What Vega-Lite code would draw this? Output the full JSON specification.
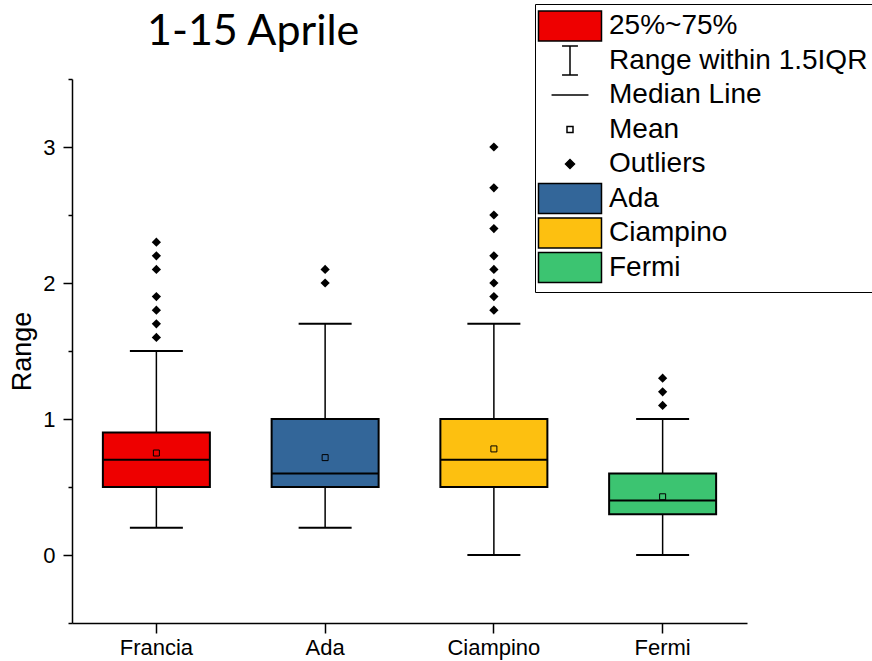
{
  "$schema": "https://vega.github.io/schema/vega-lite/v6.json",
  "autosize": {"type": "fit", "contains": "padding"},
  "width": 872,
  "height": 661,
  "padding": {"left": 8, "top": 11, "right": 125, "bottom": 3},
  "background": "white",
  "title": {"text": "1-15 Aprile", "frame": "group", "anchor": "start", "dx": 75, "offset": 14, "font": "Lato", "fontSize": 43, "fontWeight": "normal", "color": "black"},
  "config": {
    "view": {"stroke": null},
    "axis": {"domainColor": "black", "domainWidth": 1.5, "tickColor": "black", "tickWidth": 1.5, "labelColor": "black", "labelFont": "Liberation Sans", "titleFont": "Liberation Sans", "titleColor": "black", "grid": false}
  },
  "datasets": {
    "stats": [
      {"site": "Francia", "min": 0.2, "q1": 0.5, "median": 0.7, "q3": 0.9, "max": 1.5, "mean": 0.75},
      {"site": "Ada", "min": 0.2, "q1": 0.5, "median": 0.6, "q3": 1.0, "max": 1.7, "mean": 0.716},
      {"site": "Ciampino", "min": 0.0, "q1": 0.5, "median": 0.7, "q3": 1.0, "max": 1.7, "mean": 0.78},
      {"site": "Fermi", "min": 0.0, "q1": 0.3, "median": 0.4, "q3": 0.6, "max": 1.0, "mean": 0.428}
    ],
    "outliers": [
      {"site": "Francia", "value": 2.3}, {"site": "Francia", "value": 2.2}, {"site": "Francia", "value": 2.1},
      {"site": "Francia", "value": 1.9}, {"site": "Francia", "value": 1.8}, {"site": "Francia", "value": 1.7},
      {"site": "Francia", "value": 1.6},
      {"site": "Ada", "value": 2.1}, {"site": "Ada", "value": 2.0},
      {"site": "Ciampino", "value": 3.0}, {"site": "Ciampino", "value": 2.7}, {"site": "Ciampino", "value": 2.5},
      {"site": "Ciampino", "value": 2.4}, {"site": "Ciampino", "value": 2.2}, {"site": "Ciampino", "value": 2.1},
      {"site": "Ciampino", "value": 2.0}, {"site": "Ciampino", "value": 1.9}, {"site": "Ciampino", "value": 1.8},
      {"site": "Fermi", "value": 1.3}, {"site": "Fermi", "value": 1.2}, {"site": "Fermi", "value": 1.1}
    ],
    "legend": [
      {"leg": "25%~75%"}, {"leg": "Range within 1.5IQR"}, {"leg": "Median Line"}, {"leg": "Mean"},
      {"leg": "Outliers"}, {"leg": "Ada"}, {"leg": "Ciampino"}, {"leg": "Fermi"}
    ]
  },
  "layer": [
    {
      "data": {"name": "stats"},
      "mark": {"type": "rule", "color": "black", "strokeWidth": 1.5},
      "encoding": {
        "x": {"field": "site", "type": "nominal", "scale": {"domain": ["Francia", "Ada", "Ciampino", "Fermi"], "paddingInner": 0, "paddingOuter": 0},
              "axis": {"title": null, "labelAngle": 0, "labelFontSize": 22, "tickSize": 10, "labelPadding": 4}},
        "y": {"field": "min", "type": "quantitative", "scale": {"domain": [-0.5, 3.5], "nice": false, "zero": false},
              "axis": {"title": "Range", "titleFontSize": 27, "titleFontWeight": "normal", "titlePadding": 6,
                       "values": [-0.5, 0, 0.5, 1, 1.5, 2, 2.5, 3, 3.5],
                       "labelExpr": "datum.value % 1 === 0 ? '' + datum.value : ''",
                       "labelFontSize": 22, "labelPadding": 8, "labelOverlap": false,
                       "tickSize": {"condition": {"test": "datum.value % 1 !== 0", "value": 4}, "value": 9}}},
        "y2": {"field": "max"}
      }
    },
    {
      "data": {"name": "stats"},
      "mark": {"type": "bar", "size": 107, "stroke": "black", "strokeWidth": 2},
      "encoding": {
        "x": {"field": "site", "type": "nominal"},
        "y": {"field": "q1", "type": "quantitative"},
        "y2": {"field": "q3"},
        "color": {"field": "site", "type": "nominal", "scale": {"domain": ["Francia", "Ada", "Ciampino", "Fermi"], "range": ["#ee0000", "#336699", "#fdc010", "#3cc471"]}, "legend": null}
      }
    },
    {
      "data": {"name": "stats"},
      "mark": {"type": "tick", "orient": "horizontal", "size": 107, "thickness": 2, "color": "black", "opacity": 1},
      "encoding": {
        "x": {"field": "site", "type": "nominal"},
        "y": {"field": "median", "type": "quantitative"}
      }
    },
    {
      "data": {"name": "stats"},
      "mark": {"type": "tick", "orient": "horizontal", "size": 53, "thickness": 2, "color": "black", "opacity": 1},
      "encoding": {
        "x": {"field": "site", "type": "nominal"},
        "y": {"field": "min", "type": "quantitative"}
      }
    },
    {
      "data": {"name": "stats"},
      "mark": {"type": "tick", "orient": "horizontal", "size": 53, "thickness": 2, "color": "black", "opacity": 1},
      "encoding": {
        "x": {"field": "site", "type": "nominal"},
        "y": {"field": "max", "type": "quantitative"}
      }
    },
    {
      "data": {"name": "stats"},
      "mark": {"type": "point", "shape": "square", "size": 36, "filled": false, "color": "black", "strokeWidth": 1, "opacity": 1},
      "encoding": {
        "x": {"field": "site", "type": "nominal"},
        "y": {"field": "mean", "type": "quantitative"}
      }
    },
    {
      "data": {"name": "outliers"},
      "mark": {"type": "point", "shape": "diamond", "size": 85, "filled": true, "color": "black", "opacity": 1},
      "encoding": {
        "x": {"field": "site", "type": "nominal"},
        "y": {"field": "value", "type": "quantitative"}
      }
    },
    {
      "data": {"name": "legend"},
      "mark": {"type": "point", "filled": true, "opacity": 0, "size": 900},
      "encoding": {
        "fill": {"field": "leg", "type": "nominal",
                 "scale": {"domain": ["25%~75%", "Range within 1.5IQR", "Median Line", "Mean", "Outliers", "Ada", "Ciampino", "Fermi"],
                           "range": ["#ee0000", "transparent", "transparent", "white", "black", "#336699", "#fdc010", "#3cc471"]},
                 "legend": {"title": null, "orient": "none", "legendX": 463, "legendY": -75, "symbolSize": 900, "symbolOffset": 13, "labelOffset": 23,
                            "labelFont": "Liberation Sans", "labelFontSize": 28, "labelColor": "black", "labelLimit": 0, "symbolLimit": 0,
                            "rowPadding": -1.5, "gridAlign": "all", "padding": 6, "strokeColor": "black", "fillColor": "white",
                            "symbolStrokeColor": "black", "symbolStrokeWidth": 1.5, "symbolOpacity": 1,
                            "encode": {"symbols": {"update": {"stroke": {"value": "black"}, "strokeWidth": {"value": 1.5}, "opacity": {"value": 1}}}}}},
        "shape": {"field": "leg", "type": "nominal",
                  "scale": {"domain": ["25%~75%", "Range within 1.5IQR", "Median Line", "Mean", "Outliers", "Ada", "Ciampino", "Fermi"],
                            "range": ["M-2.1,-1H2.1V1H-2.1Z", "M-0.53,-0.97H0.53M0,-0.97V0.97M-0.53,0.97H0.53", "M-1.23,0H1.23", "M-0.2,-0.2H0.2V0.2H-0.2Z", "M-0.3,0L0,-0.3L0.3,0L0,0.3Z", "M-2.1,-1H2.1V1H-2.1Z", "M-2.1,-1H2.1V1H-2.1Z", "M-2.1,-1H2.1V1H-2.1Z"]},
                  "legend": {"title": null, "orient": "none", "legendX": 463, "legendY": -75, "symbolSize": 900, "symbolOffset": 13, "labelOffset": 23,
                            "labelFont": "Liberation Sans", "labelFontSize": 28, "labelColor": "black", "labelLimit": 0, "symbolLimit": 0,
                            "rowPadding": -1.5, "gridAlign": "all", "padding": 6, "strokeColor": "black", "fillColor": "white",
                            "symbolStrokeColor": "black", "symbolStrokeWidth": 1.5, "symbolOpacity": 1,
                            "encode": {"symbols": {"update": {"stroke": {"value": "black"}, "strokeWidth": {"value": 1.5}, "opacity": {"value": 1}}}}}}
      }
    }
  ]
}
